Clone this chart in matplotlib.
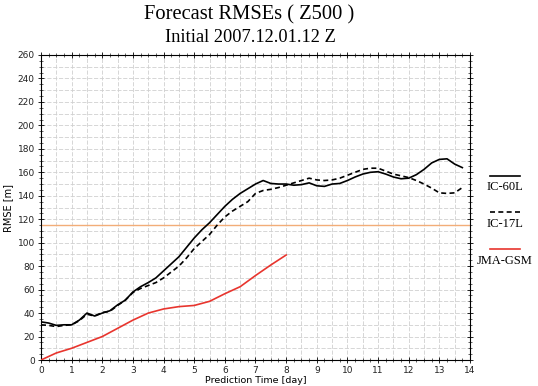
import numpy as np
import matplotlib
matplotlib.use("Agg")
import matplotlib.pyplot as plt
from matplotlib.lines import Line2D
from matplotlib.ticker import MultipleLocator

# forecast days (0.25-day output for the IC runs, 0.5-day for JMA-GSM)
days_ic = np.arange(0, 14, 0.25)
rmse_ic60 = [32.5, 31.5, 29.5, 30, 30, 34, 40, 37.5, 40, 42, 47, 51,
             58, 62.5, 66, 70, 76, 82, 88, 96, 104, 111, 117, 124,
             131, 137, 142, 146, 150, 153, 150.5, 150, 150, 149, 149.5, 151,
             148.5, 148, 150, 150.5, 153, 156, 158.5, 160, 160.5, 158.5, 156, 154.5,
             155, 158, 162.5, 168, 171, 171.5, 167, 164]
rmse_ic17 = [30, 29.5, 28.5, 29.5, 30, 33.5, 39, 37.5, 40.5, 41.5, 46.5, 51,
             57.5, 61, 63.5, 66, 70, 75, 80, 87, 95, 101, 107, 115,
             122, 127, 131, 135, 142, 144.5, 145.5, 147, 149, 151, 153, 155,
             153.5, 153, 153.5, 155, 157.5, 160, 162.5, 163.5, 163.5, 161, 158.5, 157,
             155.5, 153, 150, 146.5, 142.5, 142, 142.5, 147]
days_jma = np.arange(0, 8.5, 0.5)
rmse_jma = [0, 6, 10, 15, 20, 27, 34, 40, 43.5, 45.5, 46.5, 50, 56.5, 62.5, 72, 81, 89.5]
ref_level = 115

labels = ["IC-60L", "IC-17L", "JMA-GSM"]
styles = [dict(color="black", ls="-"), dict(color="black", ls=(0, (3, 2))),
          dict(color="#e8352e", ls="-")]

fig = plt.figure(figsize=(5.38, 3.86), dpi=100)
ax = fig.add_axes([41 / 538, 1 - 360 / 386, 429 / 538, 305 / 386])

ax.axhline(ref_level, color="#f2ad78", lw=1.0, zorder=2)
ax.plot(days_ic, rmse_ic60, lw=1.2, zorder=3, **styles[0])
ax.plot(days_ic, rmse_ic17, lw=1.2, zorder=3, **styles[1])
ax.plot(days_jma, rmse_jma, lw=1.2, zorder=3, **styles[2])

ax.set_xlim(0, 14)
ax.set_ylim(0, 260)
ax.xaxis.set_major_locator(MultipleLocator(1))
ax.xaxis.set_minor_locator(MultipleLocator(0.25))
ax.yaxis.set_major_locator(MultipleLocator(20))
ax.yaxis.set_minor_locator(MultipleLocator(5))
ax.tick_params(which="both", direction="inout", top=True, right=True,
               labelsize=6.5, colors="#222222", pad=2)
ax.tick_params(which="major", length=5, width=0.7)
ax.tick_params(which="minor", length=3, width=0.5)

# light dashed grid every half day / 10 m
for v in np.arange(0.5, 14, 0.5):
    ax.axvline(v, color="#d0d0d0", lw=0.6, ls=(0, (5, 2)), zorder=1)
for v in np.arange(10, 260, 10):
    ax.axhline(v, color="#d0d0d0", lw=0.6, ls=(0, (5, 2)), zorder=1)
for s in ax.spines.values():
    s.set_linewidth(0.8)

ax.set_xlabel("Prediction Time [day]", fontsize=6.8, labelpad=0.5)
ax.set_ylabel("RMSE [m]", fontsize=7, labelpad=3)

fig.text(249 / 538, 1 - 15 / 386, "Forecast RMSEs ( Z500 )", family="Liberation Serif",
         fontsize=14.8, ha="center", va="center")
fig.text(250 / 538, 1 - 38 / 386, "Initial 2007.12.01.12 Z", family="Liberation Serif",
         fontsize=13.2, ha="center", va="center")

# legend to the right of the plot
for i, (lab, st) in enumerate(zip(labels, styles)):
    yl = 176 + 36.5 * i
    fig.add_artist(Line2D([490 / 538, 520 / 538], [1 - yl / 386, 1 - yl / 386],
                          transform=fig.transFigure, lw=1.2, **st))
    fig.text(505 / 538, 1 - (yl + 11.5) / 386, lab, family="Liberation Serif",
             fontsize=9, ha="center", va="center")

fig.savefig("out.png", dpi=100)
